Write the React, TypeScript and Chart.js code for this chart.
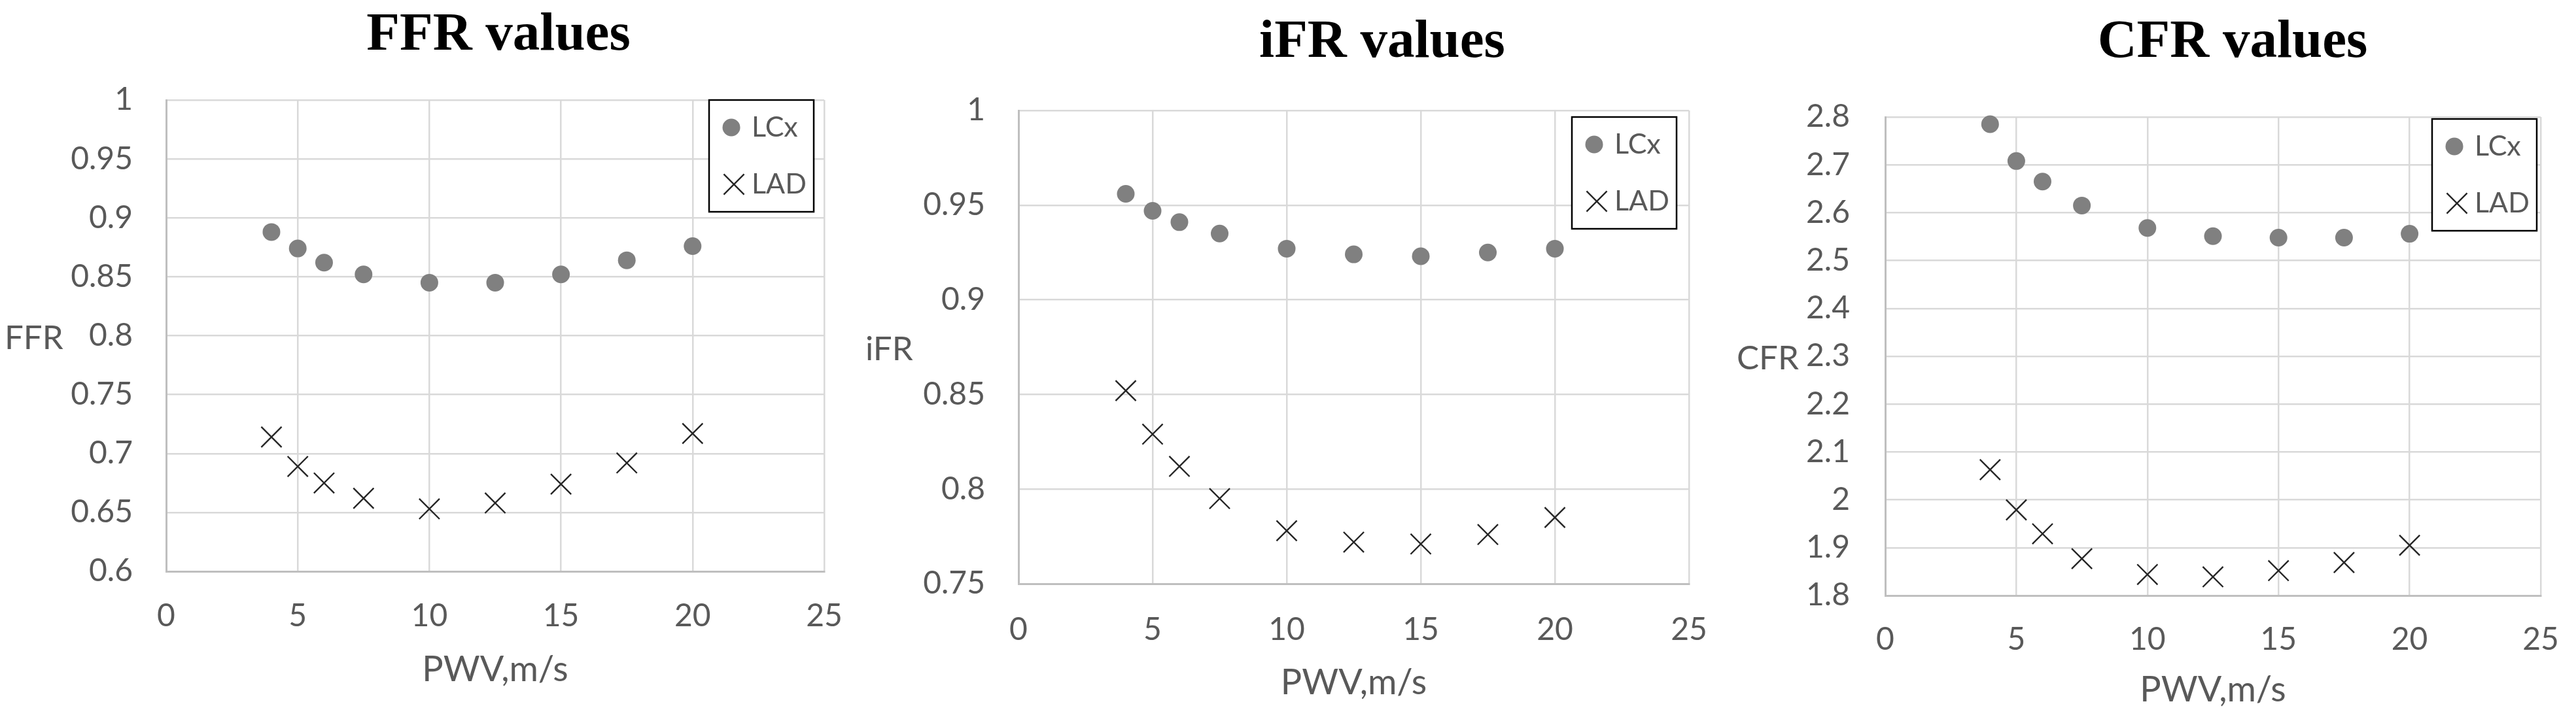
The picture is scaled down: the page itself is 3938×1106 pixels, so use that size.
import React, { useEffect, useRef } from 'react';
import { Chart, registerables } from 'chart.js';

Chart.register(...registerables);

// ---------------- data ----------------
const PWV = [4, 5, 6, 7.5, 10, 12.5, 15, 17.5, 20];

const FFR_LCX = [0.888, 0.874, 0.862, 0.852, 0.845, 0.845, 0.852, 0.864, 0.876];
const FFR_LAD = [0.714, 0.689, 0.675, 0.662, 0.653, 0.658, 0.674, 0.692, 0.717];

const IFR_LCX = [0.956, 0.947, 0.941, 0.935, 0.927, 0.924, 0.923, 0.925, 0.927];
const IFR_LAD = [0.852, 0.829, 0.812, 0.795, 0.778, 0.772, 0.771, 0.776, 0.785];

const CFR_LCX = [2.785, 2.708, 2.665, 2.615, 2.568, 2.551, 2.548, 2.548, 2.556];
const CFR_LAD = [2.063, 1.979, 1.929, 1.877, 1.844, 1.839, 1.852, 1.869, 1.905];

const X_TICKS = [0, 5, 10, 15, 20, 25];
const FFR_TICKS = [0.6, 0.65, 0.7, 0.75, 0.8, 0.85, 0.9, 0.95, 1];
const IFR_TICKS = [0.75, 0.8, 0.85, 0.9, 0.95, 1];
const CFR_TICKS = [1.8, 1.9, 2, 2.1, 2.2, 2.3, 2.4, 2.5, 2.6, 2.7, 2.8];

const SERIES_NAMES = ['LCx', 'LAD'];
const X_TITLE = 'PWV,m/s';

// ---------------- layout / style ----------------
const PAGE_W = 3938;
const PAGE_H = 1106;
const TEXT = '#595959';
const GRID = '#d9d9d9';
const AXIS = '#bfbfbf';
const DOT = '#808080';
const CROSS = '#262626';

type Panel = {
  title: string;
  yLabel: string;
  lcx: number[];
  lad: number[];
  yTicks: number[];
  left: number;
  width: number;
  yW: number;
  rW: number;
  tPadTop: number;
  tPadBottom: number;
  xH: number;
  xTickPad: number;
  xTitlePadBottom: number;
  yTickPad: number;
  yLabelX: number;
  legRight: number;
  legTop: number;
};

const PANELS: Panel[] = [
  {
    title: 'FFR values', yLabel: 'FFR', lcx: FFR_LCX, lad: FFR_LAD, yTicks: FFR_TICKS,
    left: 0, width: 1524, yW: 254, rW: 264, tPadTop: 5, tPadBottom: 49.6,
    xH: 232, xTickPad: 40, xTitlePadBottom: 49, yTickPad: 51, yLabelX: 7,
    legRight: 16, legTop: 0,
  },
  {
    title: 'iFR values', yLabel: 'iFR', lcx: IFR_LCX, lad: IFR_LAD, yTicks: IFR_TICKS,
    left: 1320, width: 1586, yW: 237, rW: 324, tPadTop: 16, tPadBottom: 54.6,
    xH: 213, xTickPad: 42, xTitlePadBottom: 29, yTickPad: 51, yLabelX: 3,
    legRight: 19, legTop: 10,
  },
  {
    title: 'CFR values', yLabel: 'CFR', lcx: CFR_LCX, lad: CFR_LAD, yTicks: CFR_TICKS,
    left: 2650, width: 1526, yW: 232, rW: 292, tPadTop: 16, tPadBottom: 64.6,
    xH: 195, xTickPad: 39, xTitlePadBottom: 18, yTickPad: 54, yLabelX: 5,
    legRight: 6, legTop: 3,
  },
];

const LEG_W = 160;
const LEG_H = 171;
const LEG_MARK_X = [34, 38];
const LEG_ROW_Y = [42, 129];
const LEG_TEXT_X = 65;

function drawCross(ctx: CanvasRenderingContext2D, x: number, y: number, r: number) {
  const h = r * Math.SQRT1_2;
  ctx.beginPath();
  ctx.moveTo(x - h, y - h);
  ctx.lineTo(x + h, y + h);
  ctx.moveTo(x + h, y - h);
  ctx.lineTo(x - h, y + h);
  ctx.stroke();
}

function makeOverlay(p: Panel) {
  return {
    id: 'overlay_' + p.yLabel,
    afterDraw(chart: any) {
      const { ctx, chartArea } = chart;
      ctx.save();
      // horizontal y-axis label
      ctx.font = '51px Lato';
      ctx.fillStyle = TEXT;
      ctx.textAlign = 'left';
      ctx.textBaseline = 'middle';
      ctx.fillText(p.yLabel, p.yLabelX, (chartArea.top + chartArea.bottom) / 2 + 4);

      // boxed legend
      const bx = chartArea.right - p.legRight - LEG_W;
      const by = chartArea.top + p.legTop;
      ctx.fillStyle = '#ffffff';
      ctx.fillRect(bx, by, LEG_W, LEG_H);
      ctx.strokeStyle = '#000000';
      ctx.lineWidth = 2.5;
      ctx.strokeRect(bx, by, LEG_W, LEG_H);

      chart.data.datasets.forEach((ds: any, i: number) => {
        const cx = bx + LEG_MARK_X[i];
        const cy = by + LEG_ROW_Y[i];
        if (ds.pointStyle === 'circle') {
          ctx.fillStyle = ds.pointBackgroundColor;
          ctx.beginPath();
          ctx.arc(cx, cy, ds.pointRadius, 0, Math.PI * 2);
          ctx.fill();
        } else {
          ctx.strokeStyle = ds.pointBorderColor;
          ctx.lineWidth = ds.pointBorderWidth;
          drawCross(ctx, cx, cy, ds.pointRadius);
        }
        ctx.font = '43px Lato';
        ctx.fillStyle = TEXT;
        ctx.textAlign = 'left';
        ctx.textBaseline = 'middle';
        ctx.fillText(ds.label, bx + LEG_TEXT_X, cy);
      });
      ctx.restore();
    },
  };
}

function PanelChart({ p }: { p: Panel }) {
  const ref = useRef<HTMLCanvasElement | null>(null);

  useEffect(() => {
    if (!ref.current) return;
    Chart.defaults.font.family = 'Lato';
    Chart.defaults.color = TEXT;

    const chart = new Chart(ref.current, {
      type: 'scatter',
      data: {
        datasets: [
          {
            label: SERIES_NAMES[0],
            data: PWV.map((x, i) => ({ x, y: p.lcx[i] })),
            pointStyle: 'circle',
            pointRadius: 13.5,
            pointBackgroundColor: DOT,
            pointBorderColor: DOT,
            pointBorderWidth: 0,
            showLine: false,
            clip: false,
          } as any,
          {
            label: SERIES_NAMES[1],
            data: PWV.map((x, i) => ({ x, y: p.lad[i] })),
            pointStyle: 'crossRot',
            pointRadius: 22,
            pointBackgroundColor: CROSS,
            pointBorderColor: CROSS,
            pointBorderWidth: 2.4,
            showLine: false,
            clip: false,
          } as any,
        ],
      },
      options: {
        responsive: false,
        animation: false,
        events: [],
        layout: { padding: 0 },
        plugins: {
          legend: { display: false },
          tooltip: { enabled: false },
          title: {
            display: true,
            text: p.title,
            color: '#000000',
            font: { family: 'Liberation Serif', size: 83, weight: 'bold', lineHeight: 1.2 },
            padding: { top: p.tPadTop - 0.6, bottom: p.tPadBottom - 0.6 },
          },
        },
        scales: {
          x: {
            type: 'linear',
            position: 'bottom',
            min: 0,
            max: 25,
            afterBuildTicks: (s: any) => { s.ticks = X_TICKS.map((v) => ({ value: v })); },
            afterFit: (s: any) => { s.height = p.xH; },
            ticks: {
              padding: p.xTickPad,
              maxRotation: 0,
              autoSkip: false,
              color: TEXT,
              font: { family: 'Lato', size: 48 },
              callback: (v: any) => String(v),
            },
            grid: { color: GRID, lineWidth: 2.5, drawTicks: false },
            border: { display: true, color: AXIS, width: 3 },
            title: {
              display: true,
              text: X_TITLE,
              color: TEXT,
              font: { family: 'Lato', size: 54, lineHeight: 1.2 },
              padding: { top: 0, bottom: p.xTitlePadBottom },
            },
          },
          y: {
            type: 'linear',
            position: 'left',
            min: p.yTicks[0],
            max: p.yTicks[p.yTicks.length - 1],
            afterBuildTicks: (s: any) => { s.ticks = p.yTicks.map((v) => ({ value: v })); },
            afterFit: (s: any) => { s.width = p.yW; },
            ticks: {
              padding: p.yTickPad,
              autoSkip: false,
              color: TEXT,
              font: { family: 'Lato', size: 48 },
              callback: (v: any) => String(v),
            },
            grid: { color: GRID, lineWidth: 2.5, drawTicks: false },
            border: { display: true, color: AXIS, width: 3 },
          },
          spacer: {
            type: 'linear',
            position: 'right',
            display: true,
            afterFit: (s: any) => { s.width = p.rW; },
            ticks: { display: false },
            grid: { display: false, drawTicks: false },
            border: { display: false },
          },
        },
      } as any,
      plugins: [makeOverlay(p)],
    });
    return () => chart.destroy();
  }, [p]);

  return (
    <canvas
      ref={ref}
      width={p.width}
      height={PAGE_H}
      style={{ position: 'absolute', left: p.left, top: 0, width: p.width, height: PAGE_H }}
    />
  );
}

export default function App() {
  return (
    <div
      style={{
        position: 'fixed',
        left: 0,
        top: 0,
        width: PAGE_W,
        height: PAGE_H,
        overflow: 'hidden',
        background: '#ffffff',
      }}
    >
      {PANELS.map((p) => (
        <PanelChart key={p.title} p={p} />
      ))}
    </div>
  );
}
